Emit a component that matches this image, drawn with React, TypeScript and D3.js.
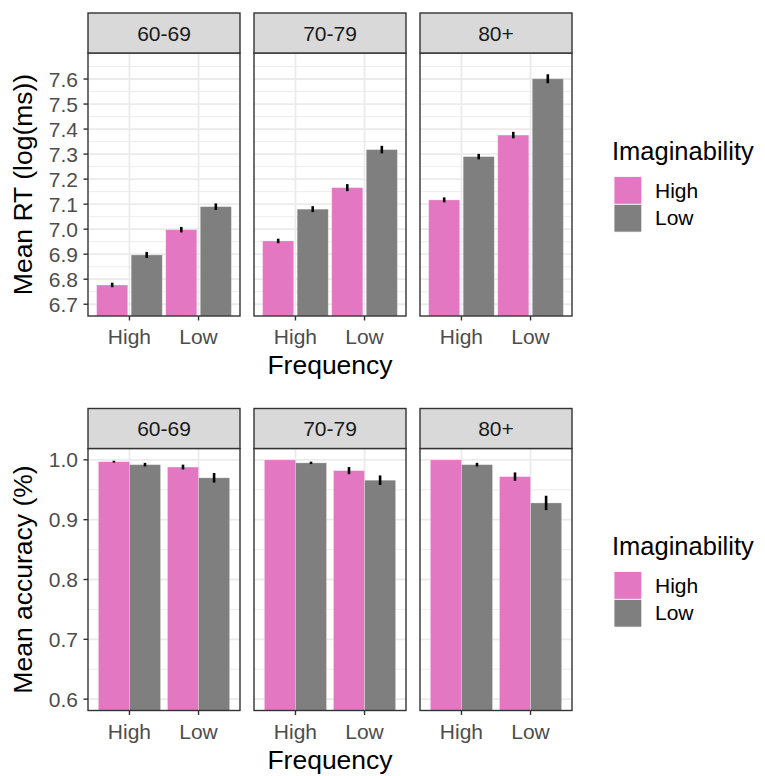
import * as d3 from "d3";

const ageGroups = ["60-69", "70-79", "80+"];
const frequency = ["High", "Low"];
const imaginability = ["High", "Low"];
const imagColors = ["#E377C2", "#7F7F7F"];

// per age group, [High frequency, Low frequency]
const rtMeanHighImag = [[6.777, 6.998], [6.953, 7.166], [7.117, 7.376]];
const rtMeanLowImag = [[6.897, 7.09], [7.08, 7.318], [7.29, 7.601]];
const rtSeHighImag = [[0.009, 0.011], [0.009, 0.014], [0.01, 0.013]];
const rtSeLowImag = [[0.012, 0.013], [0.012, 0.015], [0.011, 0.018]];
const rtTicks = [6.7, 6.8, 6.9, 7.0, 7.1, 7.2, 7.3, 7.4, 7.5, 7.6];

const accMeanHighImag = [[0.997, 0.988], [1.0, 0.982], [1.0, 0.972]];
const accMeanLowImag = [[0.992, 0.97], [0.995, 0.966], [0.992, 0.928]];
const accSeHighImag = [[0.0015, 0.004], [0, 0.006], [0, 0.007]];
const accSeLowImag = [[0.003, 0.008], [0.002, 0.008], [0.003, 0.012]];
const accTicks = [0.6, 0.7, 0.8, 0.9, 1.0];

const FONT = "'Liberation Sans', Arial, Helvetica, sans-serif";
const W = 765;
const H = 776;
const panelX = [88, 254, 420];
const panelW = 152;

type RowProps = {
  top: number;
  panelH: number;
  yDomain: [number, number];
  ticks: number[];
  minorStep: number;
  fmt: (v: number) => string;
  means: number[][][];
  ses: number[][][];
  dodge: number;
  barW: number;
  yTitle: string;
  legendTop: number;
};

function Row(p: RowProps) {
  const stripH = 40;
  const pTop = p.top + stripH;
  const pBot = pTop + p.panelH;
  const y = d3.scaleLinear().domain(p.yDomain).range([pBot, pTop]);
  const x = d3.scaleLinear().domain([0.4, 2.6]).range([0, panelW]);
  const minor: number[] = p.ticks.map((t) => t + p.minorStep);
  minor.unshift(p.ticks[0] - p.minorStep);
  const minorIn = minor.filter((v) => y(v) > pTop && y(v) < pBot);

  return (
    <g>
      {ageGroups.map((age, ai) => {
        const px = panelX[ai];
        return (
          <g key={age}>
            <rect x={px} y={pTop} width={panelW} height={p.panelH} fill="#ffffff" />
            {minorIn.map((v) => (
              <line key={"mn" + v} x1={px} x2={px + panelW} y1={y(v)} y2={y(v)} stroke="#EBEBEB" strokeWidth={0.9} />
            ))}
            {p.ticks.map((v) => (
              <line key={"mj" + v} x1={px} x2={px + panelW} y1={y(v)} y2={y(v)} stroke="#EBEBEB" strokeWidth={1.8} />
            ))}
            {frequency.map((f, fi) => (
              <line key={"vx" + f} x1={px + x(fi + 1)} x2={px + x(fi + 1)} y1={pTop} y2={pBot} stroke="#EBEBEB" strokeWidth={1.8} />
            ))}
            {frequency.map((f, fi) =>
              imaginability.map((im, ii) => {
                const m = p.means[ii][ai][fi];
                const cx = px + x(fi + 1 + (ii === 0 ? -p.dodge : p.dodge));
                const bw = x(p.barW) - x(0);
                return (
                  <rect
                    key={f + im}
                    x={cx - bw / 2}
                    y={y(m)}
                    width={bw}
                    height={pBot - y(m)}
                    fill={imagColors[ii]}
                    stroke="#ffffff"
                    strokeOpacity={0.35}
                    strokeWidth={0.8}
                  />
                );
              })
            )}
            {frequency.map((f, fi) =>
              imaginability.map((im, ii) => {
                const m = p.means[ii][ai][fi];
                const se = p.ses[ii][ai][fi];
                if (se <= 0) return null;
                const cx = px + x(fi + 1 + (ii === 0 ? -p.dodge : p.dodge));
                return (
                  <line key={"e" + f + im} x1={cx} x2={cx} y1={y(m - se)} y2={y(m + se)} stroke="#000000" strokeWidth={2.6} />
                );
              })
            )}
            <rect x={px} y={pTop} width={panelW} height={p.panelH} fill="none" stroke="#333333" strokeWidth={1.4} />
            <rect x={px} y={p.top} width={panelW} height={stripH} fill="#D9D9D9" stroke="#333333" strokeWidth={1.4} />
            <text x={px + panelW / 2} y={p.top + stripH / 2 + 7.5} textAnchor="middle" fontSize={21} fill="#1A1A1A">
              {age}
            </text>
            {frequency.map((f, fi) => (
              <g key={"xt" + f}>
                <line x1={px + x(fi + 1)} x2={px + x(fi + 1)} y1={pBot} y2={pBot + 4.5} stroke="#333333" strokeWidth={1.4} />
                <text x={px + x(fi + 1)} y={pBot + 28} textAnchor="middle" fontSize={21} fill="#4D4D4D">
                  {f}
                </text>
              </g>
            ))}
          </g>
        );
      })}
      {p.ticks.map((v) => (
        <g key={"yt" + v}>
          <line x1={panelX[0] - 4.5} x2={panelX[0]} y1={y(v)} y2={y(v)} stroke="#333333" strokeWidth={1.4} />
          <text x={panelX[0] - 10} y={y(v) + 7.5} textAnchor="end" fontSize={21} fill="#4D4D4D">
            {p.fmt(v)}
          </text>
        </g>
      ))}
      <text
        transform={`translate(32,${(pTop + pBot) / 2}) rotate(-90)`}
        textAnchor="middle"
        fontSize={26.5}
        fill="#000000"
      >
        {p.yTitle}
      </text>
      <text x={(panelX[0] + panelX[2] + panelW) / 2} y={pBot + 58} textAnchor="middle" fontSize={26.5} fill="#000000">
        Frequency
      </text>
      <g>
        <text x={612} y={p.legendTop} fontSize={25.5} fill="#000000">
          Imaginability
        </text>
        {imaginability.map((im, ii) => (
          <g key={"lg" + im}>
            <rect x={614} y={p.legendTop + 16.5 + ii * 27.8} width={27.8} height={27.8} fill={imagColors[ii]} stroke="#ffffff" strokeWidth={0.8} />
            <text x={655} y={p.legendTop + 16.5 + ii * 27.8 + 21} fontSize={21} fill="#000000">
              {im}
            </text>
          </g>
        ))}
      </g>
    </g>
  );
}

export default function App() {
  return (
    <svg width={W} height={H} style={{ display: "block", position: "absolute", left: 0, top: 0 }} fontFamily={FONT}>
      <rect width={W} height={H} fill="#ffffff" />
      <Row
        top={13}
        panelH={263}
        yDomain={[6.653, 7.704]}
        ticks={rtTicks}
        minorStep={0.05}
        fmt={(v) => v.toFixed(1)}
        means={[rtMeanHighImag, rtMeanLowImag]}
        ses={[rtSeHighImag, rtSeLowImag]}
        dodge={0.25}
        barW={0.45}
        yTitle="Mean RT (log(ms))"
        legendTop={160}
      />
      <Row
        top={408.5}
        panelH={262}
        yDomain={[0.581, 1.019]}
        ticks={accTicks}
        minorStep={0.05}
        fmt={(v) => v.toFixed(1)}
        means={[accMeanHighImag, accMeanLowImag]}
        ses={[accSeHighImag, accSeLowImag]}
        dodge={0.225}
        barW={0.45}
        yTitle="Mean accuracy (%)"
        legendTop={555}
      />
    </svg>
  );
}
